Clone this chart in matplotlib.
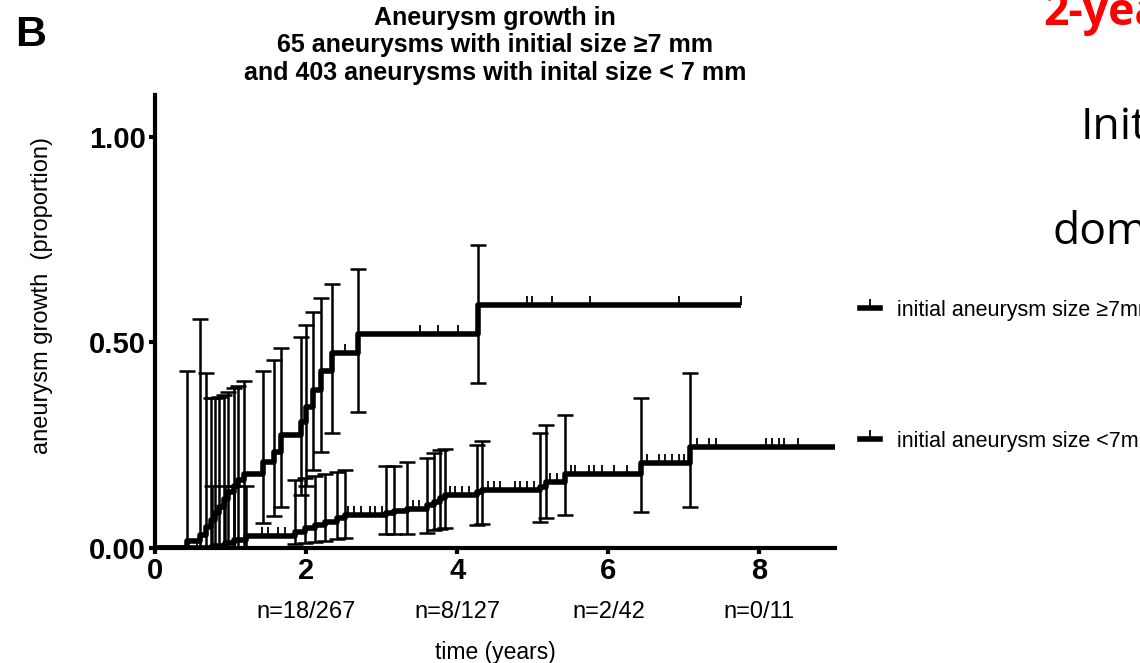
import numpy as np
import matplotlib
matplotlib.use("Agg")
import matplotlib.pyplot as plt
from matplotlib.lines import Line2D
from matplotlib import transforms

plt.rcParams['font.family'] = ['Liberation Sans', 'DejaVu Sans']

# initial size >= 7 mm: event times (years), cumulative growth, 95% CI
big_t = [0.42, 0.60, 0.68, 0.74, 0.79, 0.85, 0.91, 0.97, 1.04, 1.10, 1.18,
         1.43, 1.58, 1.67, 1.93, 2.00, 2.09, 2.19, 2.34, 2.68, 4.27]
big_p = [0.016, 0.032, 0.05, 0.068, 0.085, 0.10, 0.12, 0.135, 0.15, 0.165, 0.18,
         0.21, 0.234, 0.275, 0.307, 0.344, 0.384, 0.43, 0.474, 0.52, 0.59]
big_lo = [0, 0, 0, 0, 0, 0, 0, 0, 0, 0, 0,
          0.06, 0.078, 0.10, 0.13, 0.15, 0.19, 0.234, 0.28, 0.33, 0.40]
big_hi = [0.43, 0.556, 0.425, 0.364, 0.364, 0.368, 0.372, 0.38, 0.389, 0.395, 0.405,
          0.43, 0.457, 0.486, 0.514, 0.543, 0.575, 0.607, 0.642, 0.678, 0.737]
big_cens = [2.52, 3.51, 3.75, 4.01, 4.92, 4.99, 5.25, 5.76, 6.93, 7.75]
big_end = 7.75

# initial size < 7 mm
small_t = [0.75, 0.92, 1.05, 1.20, 1.85, 1.99, 2.12, 2.25, 2.41, 2.52, 3.06, 3.16,
           3.33, 3.60, 3.69, 3.77, 3.84, 4.26, 4.33, 5.10, 5.17, 5.43, 6.43, 7.08]
small_p = [0.006, 0.012, 0.02, 0.03, 0.04, 0.048, 0.056, 0.064, 0.072, 0.08, 0.085, 0.09,
           0.095, 0.105, 0.113, 0.121, 0.129, 0.136, 0.141, 0.148, 0.160, 0.18, 0.206, 0.246]
small_lo = [0, 0, 0, 0, 0.01, 0.012, 0.015, 0.018, 0.022, 0.025, 0.034, 0.034,
            0.034, 0.036, 0.044, 0.046, 0.048, 0.056, 0.058, 0.064, 0.072, 0.08, 0.088, 0.10]
small_hi = [0.15, 0.15, 0.15, 0.15, 0.165, 0.17, 0.175, 0.18, 0.185, 0.19, 0.2, 0.2,
            0.21, 0.218, 0.232, 0.238, 0.24, 0.25, 0.259, 0.279, 0.30, 0.324, 0.364, 0.425]
small_cens = [0.55, 1.41, 1.50, 1.63, 1.72, 2.56, 2.63, 2.72, 2.85, 2.91, 3.0, 3.42, 3.49,
              3.91, 3.97, 4.06, 4.15, 4.41, 4.48, 4.57, 4.77, 4.83, 4.92, 5.01, 5.23, 5.32,
              5.50, 5.56, 5.74, 5.81, 5.92, 6.07, 6.25, 6.51, 6.67, 6.75, 6.84, 6.93, 7.0,
              7.17, 7.33, 7.42, 8.08, 8.17, 8.26, 8.33, 8.51]
small_end = 9.0

xticks = [0, 2, 4, 6, 8]
at_risk_x = [2, 4, 6, 8]
at_risk = ["n=18/267", "n=8/127", "n=2/42", "n=0/11"]
labels = ["initial aneurysm size \u22657mm", "initial aneurysm size <7mm"]

fig = plt.figure(figsize=(11.4, 6.63), dpi=100)
ax = fig.add_axes([0.136, 0.1735, 0.5965, 0.6835])


def km(t, p, lo, hi, cens, end):
    t = np.array(t); p = np.array(p)
    xs = np.r_[0, t, end]
    ys = np.r_[0, p, p[-1]]
    ax.step(xs, ys, where='post', color='black', lw=4, solid_capstyle='butt')
    yerr = [p - np.array(lo), np.array(hi) - p]
    ax.errorbar(t, p, yerr=yerr, fmt='none', ecolor='black', elinewidth=1.8,
                capsize=5.5, capthick=1.8)
    lev = np.r_[0, p][np.searchsorted(t, cens, side='right')]
    ax.plot(cens, lev, ls='none', marker=2, markersize=6.5, mew=1.3, color='black')


km(big_t, big_p, big_lo, big_hi, big_cens, big_end)
km(small_t, small_p, small_lo, small_hi, small_cens, small_end)

ax.set_xlim(0, 9.0)
ax.set_ylim(0, 1.102)
ax.set_xticks(xticks)
ax.set_yticks([0, 0.5, 1.0])
ax.set_yticklabels(["0.00", "0.50", "1.00"])
for s in ['top', 'right']:
    ax.spines[s].set_visible(False)
for s in ['left', 'bottom']:
    ax.spines[s].set_linewidth(3)
ax.tick_params(width=3, length=4.5, pad=2, labelsize=21)
for lab in ax.get_xticklabels() + ax.get_yticklabels():
    lab.set_fontweight('bold')

trans = transforms.blended_transform_factory(ax.transData, ax.transAxes)
for x, s in zip(at_risk_x, at_risk):
    ax.text(x, -0.141, s, transform=trans, ha='center', va='center', fontsize=17)
ax.set_xlabel("time (years)", fontsize=16.5, labelpad=40)
ax.set_ylabel("aneurysm growth  (proportion)", fontsize=17)
ax.yaxis.set_label_coords(-0.15, 0.558)

ax.set_title("Aneurysm growth in\n65 aneurysms with initial size \u22657 mm\n"
             "and 403 aneurysms with inital size < 7 mm",
             fontsize=18, fontweight='bold', linespacing=1.17, pad=11)

handles = [Line2D([], [], color='black', lw=4, marker=2, markersize=6.5, mew=1.3)
           for _ in labels]
fig.legend(handles, labels, loc='upper left', bbox_to_anchor=(0.737, 0.577),
           frameon=False, fontsize=15.5, labelspacing=5.1, handlelength=0.95,
           handletextpad=0.8, numpoints=1)

fig.text(0.013, 0.93, "B", fontsize=31, fontweight='bold')

# slide text behind the figure, cut at the right edge
fig.text(0.915, 0.962, "2-yea", fontsize=32, fontweight='bold', color='red',
         family=['Open Sans', 'DejaVu Sans'])
fig.text(0.948, 0.79, "Init", fontsize=32, family=['Open Sans', 'DejaVu Sans'])
fig.text(0.923, 0.632, "dom", fontsize=32, family=['Open Sans', 'DejaVu Sans'])

fig.savefig("out.png", dpi=100)
